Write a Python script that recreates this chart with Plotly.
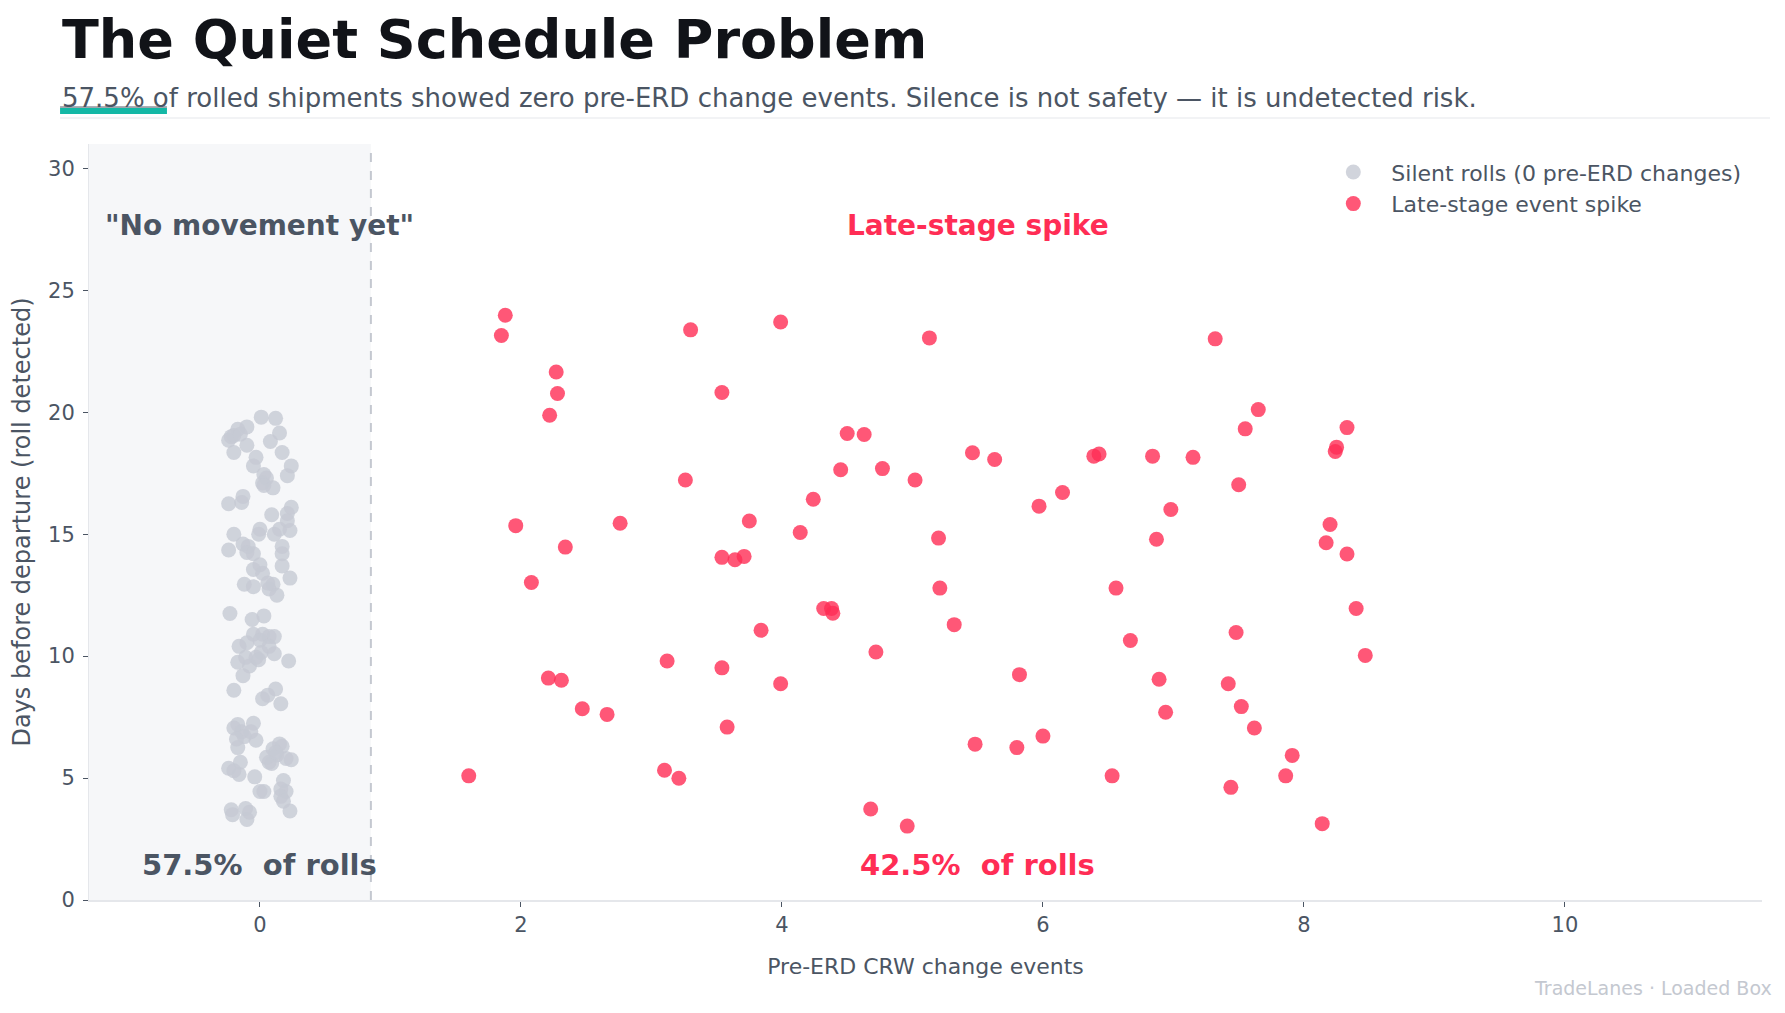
import plotly.graph_objects as go

# ---------------- data ----------------
silent_x = [0.01, 0.12, -0.10, -0.17, -0.22, -0.24, -0.20, -0.15, 0.15, 0.08, -0.10, -0.20, 0.17, -0.03, -0.05,
            0.24, 0.03, 0.21, 0.05, 0.02, 0.03, 0.10, -0.13, -0.24, -0.14, 0.24, 0.21, 0.09, 0.21,
            0.00, 0.15, 0.23, -0.01, -0.20, 0.11, -0.13, -0.09, -0.24, 0.17, -0.10, -0.05, 0.17, -0.05, 0.17,
            0.00, 0.02, 0.23, -0.12, 0.10, 0.07, 0.13, -0.05, 0.06,
            -0.23, 0.03, -0.06, -0.05, 0.02, 0.07, 0.11, 0.00, -0.10, -0.16, 0.07, 0.01, 0.11, -0.11, -0.03,
            -0.17, 0.22, -0.08, -0.13, 0.12, -0.20, 0.02, 0.16, 0.06, -0.01,
            -0.17, -0.05, -0.20, -0.14, -0.12, -0.17, -0.03, 0.15, 0.10, 0.13, 0.20, 0.24, -0.15, 0.07, -0.24,
            -0.16, -0.04, 0.18, 0.03, 0.16, 0.20, 0.16, 0.18, -0.22, -0.21, -0.11, 0.23, -0.10, -0.08, 0.09,
            -0.20, 0.17, -0.18, 0.00, 0.05, 0.12, -0.07]
silent_y = [19.8, 19.75, 19.4, 19.3, 19.0, 18.85, 19.05, 19.1, 19.15, 18.8, 18.65, 18.35, 18.35, 18.15, 17.8,
            17.8, 17.45, 17.4, 17.3, 17.1, 17.0, 16.9, 16.55, 16.25, 16.3, 16.1, 15.85, 15.8, 15.55,
            15.2, 15.2, 15.15, 15.0, 15.0, 15.0, 14.6, 14.5, 14.35, 14.5, 14.25, 14.2, 14.2, 13.55, 13.7,
            13.75, 13.4, 13.2, 12.95, 12.95, 12.75, 12.5, 12.85, 13.0,
            11.75, 11.65, 11.5, 10.9, 10.9, 10.8, 10.8, 10.65, 10.55, 10.4, 10.4, 10.15, 10.1, 9.95, 9.95,
            9.75, 9.8, 9.6, 9.2, 8.65, 8.6, 8.25, 8.05, 8.4, 9.85,
            7.2, 7.25, 7.05, 6.9, 6.7, 6.25, 6.55, 6.4, 6.2, 5.95, 5.8, 5.75, 5.65, 5.65, 5.4,
            5.15, 5.05, 4.9, 4.45, 4.55, 4.45, 4.25, 4.05, 3.7, 3.5, 3.75, 3.65, 3.3, 3.6, 5.6,
            5.3, 6.3, 6.6, 4.45, 5.85, 6.05, 6.9]

spike_x = [1.60, 1.85, 1.88, 1.96, 2.08, 2.27, 2.28, 2.22, 2.34, 2.21, 2.31, 2.47, 2.66, 2.76, 3.10,
           3.21, 3.12, 3.26, 3.30, 3.54, 3.54, 3.64, 3.71, 3.54, 3.58, 3.75, 3.84, 3.99, 3.99, 4.14,
           4.24, 4.32, 4.38, 4.39, 4.45, 4.50, 4.63, 4.77, 4.72, 4.68, 4.96, 5.02, 5.13, 5.20, 5.21,
           5.32, 5.46, 5.63, 5.48, 5.82, 5.80, 5.97, 6.00, 6.15, 6.39, 6.43, 6.56, 6.53, 6.67, 6.84,
           6.87, 6.89, 6.94, 6.98, 7.15, 7.32, 7.42, 7.44, 7.48, 7.50, 7.52, 7.55, 7.65, 7.62, 7.86,
           7.91, 8.14, 8.17, 8.20, 8.24, 8.25, 8.33, 8.33, 8.40, 8.47]
spike_y = [5.09, 23.15, 23.98, 15.35, 13.02, 21.65, 20.77, 19.88, 14.47, 9.10, 9.01, 7.84, 7.61, 15.45, 5.32,
           4.99, 9.80, 17.22, 23.38, 20.81, 14.05, 13.95, 14.09, 9.52, 7.09, 15.54, 11.06, 23.70, 8.87, 15.07,
           16.43, 11.95, 11.95, 11.76, 17.64, 19.13, 19.09, 17.69, 10.17, 3.73, 3.03, 17.22, 23.05, 14.84, 12.79,
           11.29, 18.34, 18.06, 6.39, 9.24, 6.25, 16.15, 6.72, 16.71, 18.20, 18.29, 12.79, 5.09, 10.64, 18.20,
           14.79, 9.05, 7.70, 16.01, 18.15, 23.01, 8.87, 4.62, 10.97, 17.03, 7.93, 19.32, 20.11, 7.05, 5.09,
           5.93, 3.13, 14.65, 15.40, 18.39, 18.57, 14.19, 19.37, 11.95, 10.03]

x_ticks = [0, 2, 4, 6, 8, 10]
y_ticks = [0, 5, 10, 15, 20, 25, 30]
silent_share = "57.5%"
spike_share = "42.5%"
threshold = 0.85
x_range = [-1.31, 11.51]
y_range = [0, 31]

# ---------------- style ----------------
FONT = "DejaVu Sans"
DARK = "#4B5563"
RED = "#FF2D55"
GRAY_PT = "#C5C9D3"

fig = go.Figure()
fig.add_trace(go.Scatter(
    x=silent_x, y=silent_y, mode="markers", name="Silent rolls (0 pre-ERD changes)",
    marker=dict(size=15, color=GRAY_PT, opacity=0.8, line=dict(width=0)),
    legendgroup="a"))
fig.add_trace(go.Scatter(
    x=spike_x, y=spike_y, mode="markers", name="Late-stage event spike",
    marker=dict(size=15, color=RED, opacity=0.8, line=dict(width=0)),
    legendgroup="b"))

# shaded "silent" zone + threshold line
fig.add_shape(type="rect", xref="x", yref="paper", x0=x_range[0], x1=threshold, y0=0, y1=1,
              fillcolor="#F6F7F9", line=dict(width=0), layer="below")
fig.add_shape(type="line", xref="x", yref="paper", x0=threshold, x1=threshold, y0=0, y1=1,
              line=dict(color="#C4C8D0", width=2, dash="dash"), layer="below")

# header
fig.add_annotation(text="<b>The Quiet Schedule Problem</b>", xref="paper", yref="paper",
                   x=-0.0173, y=1.1376, xanchor="left", yanchor="middle", showarrow=False,
                   font=dict(family=FONT, size=54, color="#111318"))
fig.add_annotation(text=f"{silent_share} of rolled shipments showed zero pre-ERD change events. "
                        "Silence is not safety — it is undetected risk.",
                   xref="paper", yref="paper", x=-0.0173, y=1.0608, xanchor="left", yanchor="middle",
                   showarrow=False, font=dict(family=FONT, size=26, color=DARK))
fig.add_shape(type="line", xref="paper", yref="paper", x0=-0.0173, x1=0.0466, y0=1.0489, y1=1.0489,
              line=dict(color=DARK, width=1))
fig.add_shape(type="line", xref="paper", yref="paper", x0=-0.0173, x1=0.0466, y0=1.0437, y1=1.0437,
              line=dict(color="#14B8A6", width=6))
fig.add_shape(type="line", xref="paper", yref="paper", x0=-0.0173, x1=1.0048, y0=1.0344, y1=1.0344,
              line=dict(color="#E5E7EB", width=1))

# in-plot labels
fig.add_annotation(text='<b>"No movement yet"</b>', x=0, y=27.66, showarrow=False,
                   font=dict(family=FONT, size=28, color=DARK))
fig.add_annotation(text="<b>Late-stage spike</b>", x=5.5, y=27.66, showarrow=False,
                   font=dict(family=FONT, size=28, color=RED))
fig.add_annotation(text=f"<b>{silent_share}  of rolls</b>", x=0, y=1.43, showarrow=False,
                   font=dict(family=FONT, size=29, color=DARK))
fig.add_annotation(text=f"<b>{spike_share}  of rolls</b>", x=5.5, y=1.43, showarrow=False,
                   font=dict(family=FONT, size=29, color=RED))

# footer
fig.add_annotation(text="TradeLanes · Loaded Box", xref="paper", yref="paper", x=1.0072, y=-0.1164,
                   xanchor="right", yanchor="middle", showarrow=False,
                   font=dict(family=FONT, size=19, color="#C4C8D0"))

fig.update_layout(
    width=1785, height=1013,
    margin=dict(l=81, r=31, t=136, b=121),
    paper_bgcolor="white", plot_bgcolor="white",
    font=dict(family=FONT, color=DARK),
    showlegend=True,
    legend=dict(x=0.733, y=0.9905, xanchor="left", yanchor="top", bgcolor="rgba(0,0,0,0)",
                font=dict(family=FONT, size=22, color=DARK), tracegroupgap=0,
                traceorder="grouped", itemwidth=66),
    xaxis=dict(range=x_range, tickvals=x_ticks, showgrid=False, zeroline=False,
               showline=True, linecolor="#E5E7EB", linewidth=2,
               ticks="outside", ticklen=5, tickcolor="#4B5563", tickwidth=1,
               ticklabelstandoff=0,
               tickfont=dict(family=FONT, size=21, color=DARK),
               title=dict(text="Pre-ERD CRW change events", standoff=22,
                          font=dict(family=FONT, size=22, color=DARK))),
    yaxis=dict(range=y_range, tickvals=y_ticks, showgrid=False, zeroline=False,
               showline=True, linecolor="#E5E7EB", linewidth=1,
               ticks="outside", ticklen=5, tickcolor="#4B5563", tickwidth=1,
               ticklabelstandoff=4,
               tickfont=dict(family=FONT, size=21, color=DARK),
               title=dict(text="Days before departure (roll detected)", standoff=12,
                          font=dict(family=FONT, size=24, color=DARK))),
)

fig.write_html("out.html")
